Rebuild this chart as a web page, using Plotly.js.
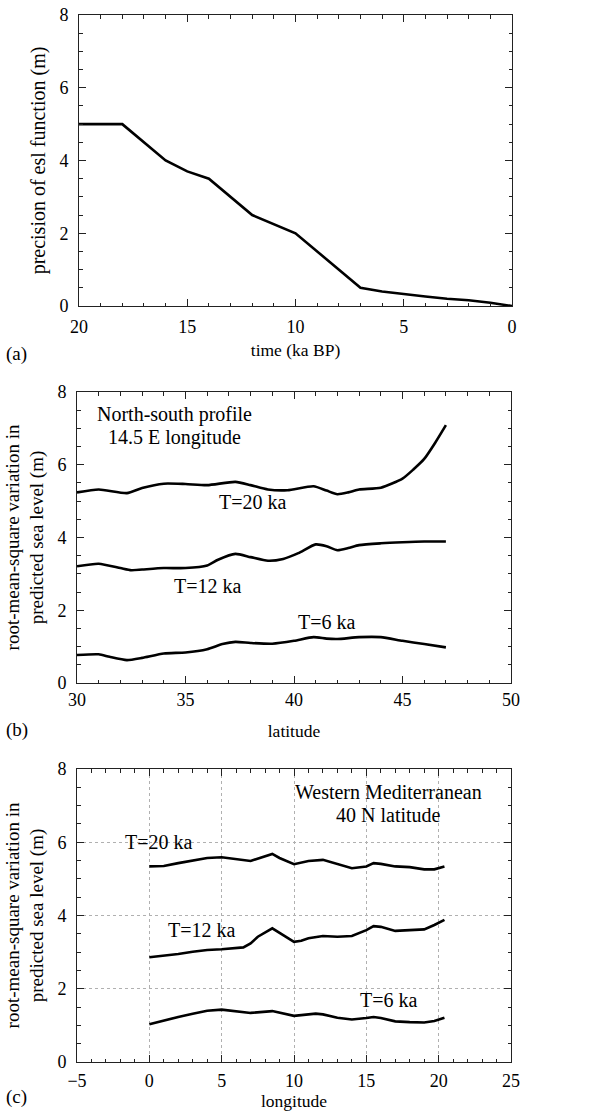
<!DOCTYPE html>
<html>
<head>
<meta charset="utf-8">
<script src="https://cdn.plot.ly/plotly-3.0.1.min.js"></script>
<style>html,body{margin:0;padding:0;background:#fff;}#chart{width:591px;height:1116px;}</style>
</head>
<body>
<div id="chart"></div>
<script>
// Panel (a): precision of esl function vs time
const timeKa = [20, 18, 16, 15, 14, 12, 10, 7, 6, 5, 4, 3, 2, 1, 0];
const eslPrecision = [5, 5, 4, 3.7, 3.5, 2.5, 2, 0.5, 0.4, 0.32, 0.26, 0.2, 0.16, 0.09, 0];

// Panel (b): North-south profile, 14.5 E longitude
const latT20 = [30, 31, 32.3, 33, 34, 35, 36, 37.3, 38, 38.8, 39.7, 40.9, 41.5, 42, 42.5, 43, 44, 45, 45.5, 46, 46.5, 47];
const rmsLatT20 = [5.24, 5.32, 5.22, 5.36, 5.48, 5.47, 5.44, 5.53, 5.44, 5.32, 5.30, 5.41, 5.29, 5.19, 5.24, 5.32, 5.37, 5.62, 5.87, 6.16, 6.6, 7.09];
const latT12 = [30, 31, 32, 32.5, 33, 34, 35, 36, 36.5, 37.3, 38, 38.8, 39.5, 40.2, 41, 41.5, 42, 42.5, 43, 44, 45, 46, 47];
const rmsLatT12 = [3.21, 3.28, 3.16, 3.10, 3.12, 3.16, 3.16, 3.23, 3.39, 3.55, 3.46, 3.36, 3.41, 3.57, 3.81, 3.76, 3.65, 3.71, 3.79, 3.84, 3.87, 3.89, 3.89];
const latT6 = [30, 31, 31.5, 32.3, 33, 34, 35, 36, 36.7, 37.3, 38, 39, 40, 40.9, 41.5, 42, 43, 44, 45, 46, 47];
const rmsLatT6 = [0.77, 0.79, 0.72, 0.63, 0.69, 0.81, 0.84, 0.93, 1.07, 1.13, 1.10, 1.08, 1.16, 1.26, 1.22, 1.21, 1.26, 1.26, 1.16, 1.07, 0.98];

// Panel (c): Western Mediterranean, 40 N latitude
const lonT20 = [0, 1, 2, 3, 4, 5, 6, 7, 8.5, 9, 10, 11, 12, 13, 14, 15, 15.5, 16, 17, 18, 19, 19.7, 20.4];
const rmsLonT20 = [5.34, 5.35, 5.43, 5.49, 5.57, 5.59, 5.55, 5.49, 5.68, 5.57, 5.40, 5.49, 5.52, 5.40, 5.29, 5.34, 5.43, 5.41, 5.34, 5.32, 5.26, 5.26, 5.34];
const lonT12 = [0, 1, 2, 3, 4, 5, 6, 6.5, 7, 7.5, 8.5, 9, 10, 10.5, 11, 12, 13, 14, 15, 15.5, 16, 17, 18, 19, 19.7, 20.4];
const rmsLonT12 = [2.86, 2.90, 2.95, 3.01, 3.06, 3.08, 3.10, 3.13, 3.24, 3.42, 3.65, 3.53, 3.28, 3.31, 3.38, 3.44, 3.42, 3.44, 3.60, 3.71, 3.69, 3.58, 3.59, 3.62, 3.74, 3.88];
const lonT6 = [0, 1, 2, 3, 4, 5, 6, 7, 8.5, 10, 11.5, 12, 13, 14, 15, 15.5, 16, 17, 18, 19, 19.7, 20.4];
const rmsLonT6 = [1.03, 1.14, 1.23, 1.32, 1.40, 1.43, 1.39, 1.34, 1.39, 1.26, 1.32, 1.30, 1.21, 1.16, 1.20, 1.23, 1.20, 1.11, 1.09, 1.08, 1.12, 1.21];

// Text
const yTitleA = 'precision of esl function (m)';
const yTitleBC = 'root-mean-square variation in<br>predicted sea level (m)';
const xTitleA = 'time (ka BP)';
const xTitleB = 'latitude';
const xTitleC = 'longitude';

const FONT = '"Liberation Serif", "Times New Roman", serif';
const lineStyle = {color: '#000', width: 2.6};
const splineStyle = Object.assign({shape: 'spline', smoothing: 0.6}, lineStyle);

const traces = [
  {x: timeKa, y: eslPrecision, xaxis: 'x', yaxis: 'y', mode: 'lines', line: lineStyle, name: 'esl precision'},
  {x: latT20, y: rmsLatT20, xaxis: 'x2', yaxis: 'y2', mode: 'lines', line: splineStyle, name: 'T=20 ka'},
  {x: latT12, y: rmsLatT12, xaxis: 'x2', yaxis: 'y2', mode: 'lines', line: splineStyle, name: 'T=12 ka'},
  {x: latT6, y: rmsLatT6, xaxis: 'x2', yaxis: 'y2', mode: 'lines', line: splineStyle, name: 'T=6 ka'},
  {x: lonT20, y: rmsLonT20, xaxis: 'x3', yaxis: 'y3', mode: 'lines', line: lineStyle, name: 'T=20 ka'},
  {x: lonT12, y: rmsLonT12, xaxis: 'x3', yaxis: 'y3', mode: 'lines', line: lineStyle, name: 'T=12 ka'},
  {x: lonT6, y: rmsLonT6, xaxis: 'x3', yaxis: 'y3', mode: 'lines', line: lineStyle, name: 'T=6 ka'}
];

function xAx(domain, range, anchor, title, grid, labelStandoff, titleStandoff) {
  return {
    domain: domain, range: range, anchor: anchor, dtick: 5, tick0: 0,
    ticks: 'inside', ticklen: 7, tickwidth: 1, tickcolor: '#222',
    showline: true, linecolor: '#222', linewidth: 1, mirror: 'allticks',
    zeroline: false, showgrid: !!grid, gridcolor: '#b0b0b0', griddash: 'dot', gridwidth: 1,
    minor: {ticks: 'inside', ticklen: 3.5, dtick: 1, tickcolor: '#222', showgrid: false},
    tickfont: {family: FONT, size: 18, color: '#000'},
    ticklabelstandoff: labelStandoff,
    title: {text: title, font: {family: FONT, size: 17.5, color: '#000'}, standoff: titleStandoff},
    fixedrange: true
  };
}
function yAx(domain, anchor, title, grid, titleSize) {
  return {
    domain: domain, range: [0, 8], anchor: anchor, dtick: 2, tick0: 0,
    ticks: 'inside', ticklen: 7, tickwidth: 1, tickcolor: '#222',
    showline: true, linecolor: '#222', linewidth: 1, mirror: 'allticks',
    zeroline: false, showgrid: !!grid, gridcolor: '#b0b0b0', griddash: 'dot', gridwidth: 1,
    minor: {ticks: 'inside', ticklen: 3.5, dtick: 0.5, tickcolor: '#222', showgrid: false},
    tickfont: {family: FONT, size: 18, color: '#000'},
    ticklabelstandoff: 6,
    title: {text: title, font: {family: FONT, size: titleSize, color: '#000'}, standoff: 8},
    fixedrange: true
  };
}

const W = 591, H = 1116;
const py = p => 1 - p / H;
const px = p => p / W;

const annFont = {family: FONT, size: 20, color: '#000'};
const panelFont = {family: FONT, size: 19, color: '#000'};
const annotations = [
  {xref: 'x2', yref: 'y2', x: 34.5, y: 7.39, text: 'North-south profile', showarrow: false, font: annFont},
  {xref: 'x2', yref: 'y2', x: 34.5, y: 6.76, text: '14.5 E longitude', showarrow: false, font: annFont},
  {xref: 'x2', yref: 'y2', x: 38.1, y: 4.97, text: 'T=20 ka', showarrow: false, font: annFont},
  {xref: 'x2', yref: 'y2', x: 36.0, y: 2.66, text: 'T=12 ka', showarrow: false, font: annFont},
  {xref: 'x2', yref: 'y2', x: 41.5, y: 1.68, text: 'T=6 ka', showarrow: false, font: annFont},
  {xref: 'x3', yref: 'y3', x: 16.5, y: 7.38, text: 'Western Mediterranean', showarrow: false, font: annFont},
  {xref: 'x3', yref: 'y3', x: 16.5, y: 6.75, text: '40 N latitude', showarrow: false, font: annFont},
  {xref: 'x3', yref: 'y3', x: 0.6, y: 6.01, text: 'T=20 ka', showarrow: false, font: annFont},
  {xref: 'x3', yref: 'y3', x: 3.6, y: 3.6, text: 'T=12 ka', showarrow: false, font: annFont},
  {xref: 'x3', yref: 'y3', x: 16.5, y: 1.69, text: 'T=6 ka', showarrow: false, font: annFont},
  {xref: 'paper', yref: 'paper', x: px(4), y: py(354), xanchor: 'left', yanchor: 'middle', text: '(a)', showarrow: false, font: panelFont},
  {xref: 'paper', yref: 'paper', x: px(4), y: py(730), xanchor: 'left', yanchor: 'middle', text: '(b)', showarrow: false, font: panelFont},
  {xref: 'paper', yref: 'paper', x: px(4), y: py(1097), xanchor: 'left', yanchor: 'middle', text: '(c)', showarrow: false, font: panelFont}
];

const layout = {
  width: W, height: H,
  margin: {l: 0, r: 0, t: 0, b: 0},
  paper_bgcolor: '#fff', plot_bgcolor: '#fff',
  showlegend: false,
  font: {family: FONT, color: '#000'},
  xaxis: xAx([px(79), px(512)], [20, 0], 'y', xTitleA, false, 4, 8),
  yaxis: yAx([py(306), py(15)], 'x', yTitleA, false, 20),
  xaxis2: xAx([px(77), px(511)], [30, 50], 'y2', xTitleB, false, 0, 16),
  yaxis2: yAx([py(683), py(392)], 'x2', yTitleBC, false, 19),
  xaxis3: xAx([px(77), px(511)], [-5, 25], 'y3', xTitleC, true, 2, 0),
  yaxis3: yAx([py(1062), py(769)], 'x3', yTitleBC, true, 19),
  annotations: annotations
};

Plotly.newPlot('chart', traces, layout, {staticPlot: true, displayModeBar: false});
</script>
</body>
</html>
